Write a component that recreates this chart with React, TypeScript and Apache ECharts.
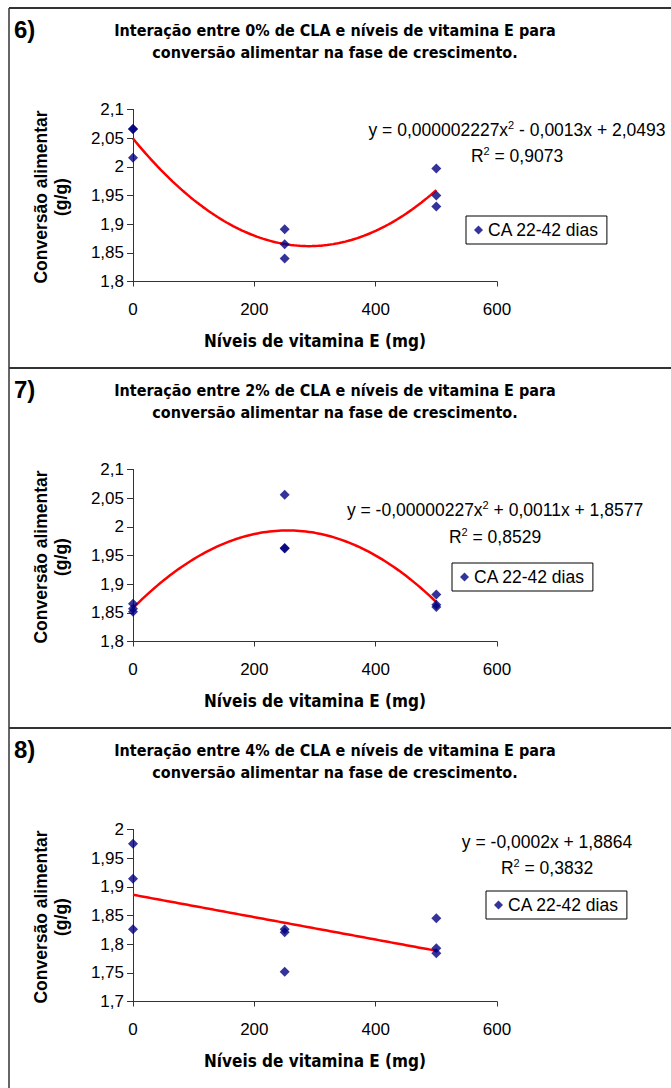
import React, { useEffect, useRef } from "react";
import * as echarts from "echarts";

// ---------- data ----------
const xTicks = [0, 200, 400, 600];
const panelLabels = ["6)", "7)", "8)"];
const titleLine1 = [
  "Interação entre 0% de CLA e níveis de vitamina E para",
  "Interação entre 2% de CLA e níveis de vitamina E para",
  "Interação entre 4% de CLA e níveis de vitamina E para",
];
const titleLine2 = "conversão alimentar na fase de crescimento.";
const seriesName = "CA 22-42 dias";
const xAxisName = "Níveis de vitamina E (mg)";
const yAxisName1 = "Conversão alimentar";
const yAxisName2 = "(g/g)";

const vitE = [0, 0, 0, 250, 250, 250, 500, 500, 500];
const ca6 = [2.066, 2.066, 2.016, 1.891, 1.865, 1.84, 1.997, 1.95, 1.931];
const ca7 = [1.866, 1.857, 1.852, 2.056, 1.963, 1.962, 1.882, 1.864, 1.86];
const ca8 = [1.975, 1.914, 1.826, 1.826, 1.821, 1.752, 1.845, 1.793, 1.784];
const caPanels = [ca6, ca7, ca8];

const yMin = [1.8, 1.8, 1.7];
const yMax = [2.1, 2.1, 2.0];
const fitDegree = [2, 2, 1];

const eqMain = ["y = 0,000002227x", "y = -0,00000227x", "y = -0,0002x + 1,8864"];
const eqSup = ["2", "2", ""];
const eqRest = [" - 0,0013x + 2,0493", " + 0,0011x + 1,8577", ""];
const r2Values = ["0,9073", "0,8529", "0,3832"];

// ---------- helpers ----------
function polyfit(xs: number[], ys: number[], deg: number): number[] {
  const n = deg + 1;
  const A: number[][] = [];
  for (let i = 0; i < n; i++) {
    const row: number[] = [];
    for (let j = 0; j < n; j++) {
      let s = 0;
      for (const x of xs) s += Math.pow(x, i + j);
      row.push(s);
    }
    let b = 0;
    xs.forEach((x, k) => (b += Math.pow(x, i) * ys[k]));
    row.push(b);
    A.push(row);
  }
  for (let c = 0; c < n; c++) {
    let p = c;
    for (let r = c + 1; r < n; r++) if (Math.abs(A[r][c]) > Math.abs(A[p][c])) p = r;
    [A[c], A[p]] = [A[p], A[c]];
    for (let r = 0; r < n; r++) {
      if (r === c) continue;
      const f = A[r][c] / A[c][c];
      for (let k = c; k <= n; k++) A[r][k] -= f * A[c][k];
    }
  }
  return A.map((row, i) => row[n] / row[i]);
}

const fmt = (v: number) => String(+v.toFixed(2)).replace(".", ",");

const FONT = "'Liberation Sans', Arial, sans-serif";
const NARROW = "'Liberation Sans Narrow', 'Arial Narrow', 'DejaVu Sans Condensed', sans-serif";

const panelTop = [8, 368, 728];
const gridLeft = 133;
const gridWidth = 364;
const gridTopRel = 101.5;
const gridHeight = 172;

const eqCenterX = [517, 495, 547];
const eqYRel = [122, 142, 114];
const r2YRel = [148, 169, 140];
const legendPos = [
  [466, 216],
  [452, 563],
  [486, 891],
];

export default function App() {
  const ref = useRef<HTMLDivElement>(null);
  useEffect(() => {
    document.body.style.margin = "0";
    const chart = echarts.init(ref.current!, undefined, { renderer: "svg" });

    const grids: any[] = [];
    const xAxes: any[] = [];
    const yAxes: any[] = [];
    const series: any[] = [];
    const legends: any[] = [];
    const graphics: any[] = [];

    // frame lines
    const lineStyle = { stroke: "#333", lineWidth: 2 };
    graphics.push({ type: "line", shape: { x1: 9, y1: 8, x2: 671, y2: 8 }, style: lineStyle });
    graphics.push({ type: "line", shape: { x1: 9, y1: 8, x2: 9, y2: 1088 }, style: { stroke: "#333", lineWidth: 1.5 } });
    graphics.push({ type: "line", shape: { x1: 9, y1: 368, x2: 671, y2: 368 }, style: lineStyle });
    graphics.push({ type: "line", shape: { x1: 9, y1: 728, x2: 671, y2: 728 }, style: lineStyle });

    for (let p = 0; p < 3; p++) {
      const top = panelTop[p];
      grids.push({ left: gridLeft, width: gridWidth, top: top + gridTopRel, height: gridHeight });
      xAxes.push({
        type: "value",
        gridIndex: p,
        min: xTicks[0],
        max: xTicks[xTicks.length - 1],
        interval: xTicks[1] - xTicks[0],
        axisLine: { lineStyle: { color: "#333", width: 1 } },
        axisTick: { show: true, length: 5, lineStyle: { color: "#333" } },
        splitLine: { show: false },
        axisLabel: { fontFamily: FONT, fontSize: 17, color: "#000", margin: 19 },
        name: xAxisName,
        nameLocation: "middle",
        nameGap: 51,
        nameTextStyle: { fontFamily: NARROW, fontWeight: "bold", fontSize: 17, color: "#000" },
      });
      yAxes.push({
        type: "value",
        gridIndex: p,
        min: yMin[p],
        max: yMax[p],
        interval: 0.05,
        axisLine: { show: true, lineStyle: { color: "#333", width: 1 } },
        axisTick: { show: true, length: 6, lineStyle: { color: "#333" } },
        splitLine: { show: false },
        axisLabel: { fontFamily: FONT, fontSize: 17, color: "#000", margin: 9, formatter: fmt },
      });

      const ys = caPanels[p];
      series.push({
        name: seriesName,
        type: "scatter",
        xAxisIndex: p,
        yAxisIndex: p,
        symbol: "diamond",
        symbolSize: 10,
        itemStyle: { color: "#000080" },
        data: vitE.map((x, i) => [x, ys[i]]),
        z: 3,
      });
      const coef = polyfit(vitE, ys, fitDegree[p]);
      const trend: number[][] = [];
      for (let x = 0; x <= 500; x += 5) {
        let y = 0;
        coef.forEach((c, i) => (y += c * Math.pow(x, i)));
        trend.push([x, y]);
      }
      series.push({
        name: "trend" + p,
        type: "line",
        xAxisIndex: p,
        yAxisIndex: p,
        data: trend,
        showSymbol: false,
        lineStyle: { color: "#ff0000", width: 2.5 },
        itemStyle: { color: "#ff0000" },
        silent: true,
        z: 2,
      });

      legends.push({
        data: [{ name: seriesName, icon: "diamond" }],
        left: legendPos[p][0],
        top: legendPos[p][1],
        orient: "vertical",
        padding: [5, 8, 5, 8],
        itemWidth: 9,
        itemHeight: 9,
        itemGap: 5,
        borderColor: "#000",
        borderWidth: 1,
        borderRadius: 0,
        selectedMode: false,
        textStyle: { fontFamily: FONT, fontSize: 17.5, color: "#000", padding: [0, 0, 0, 0] },
      });

      // panel label
      graphics.push({
        type: "text",
        x: 14,
        y: top + 21,
        style: { text: panelLabels[p], font: `bold 24px ${FONT}`, fill: "#000", textVerticalAlign: "middle" },
      });
      // titles
      graphics.push({
        type: "text",
        x: 335,
        y: top + 22,
        style: { text: titleLine1[p], font: `bold 16px ${NARROW}`, fill: "#000", textAlign: "center", textVerticalAlign: "middle" },
      });
      graphics.push({
        type: "text",
        x: 335,
        y: top + 44,
        style: { text: titleLine2, font: `bold 16px ${NARROW}`, fill: "#000", textAlign: "center", textVerticalAlign: "middle" },
      });
      // y axis name
      graphics.push({
        type: "text",
        x: 41,
        y: top + 189,
        rotation: Math.PI / 2,
        style: { text: yAxisName1, font: `bold 17.5px ${FONT}`, fill: "#000", textAlign: "center", textVerticalAlign: "middle" },
      });
      graphics.push({
        type: "text",
        x: 61,
        y: top + 189,
        rotation: Math.PI / 2,
        style: { text: yAxisName2, font: `bold 17.5px ${FONT}`, fill: "#000", textAlign: "center", textVerticalAlign: "middle" },
      });
      // equation
      const eqText = eqSup[p]
        ? `{n|${eqMain[p]}}{s|${eqSup[p]}}{n|${eqRest[p]}}`
        : `{n|${eqMain[p]}}`;
      const rich = {
        n: { fontFamily: FONT, fontSize: 17.5, lineHeight: 22, fill: "#000" },
        s: { fontFamily: FONT, fontSize: 11, lineHeight: 22, verticalAlign: "top", fill: "#000" },
      };
      graphics.push({
        type: "text",
        x: eqCenterX[p],
        y: top + eqYRel[p],
        style: { text: eqText, fill: "#000", textAlign: "center", textVerticalAlign: "middle", rich },
      });
      graphics.push({
        type: "text",
        x: eqCenterX[p],
        y: top + r2YRel[p],
        style: { text: `{n|R}{s|2}{n| = ${r2Values[p]}}`, fill: "#000", textAlign: "center", textVerticalAlign: "middle", rich },
      });
    }

    chart.setOption({
      animation: false,
      backgroundColor: "#fff",
      grid: grids,
      xAxis: xAxes,
      yAxis: yAxes,
      series,
      legend: legends,
      graphic: graphics,
    });
    return () => chart.dispose();
  }, []);
  return <div ref={ref} style={{ width: 671, height: 1088 }} />;
}
